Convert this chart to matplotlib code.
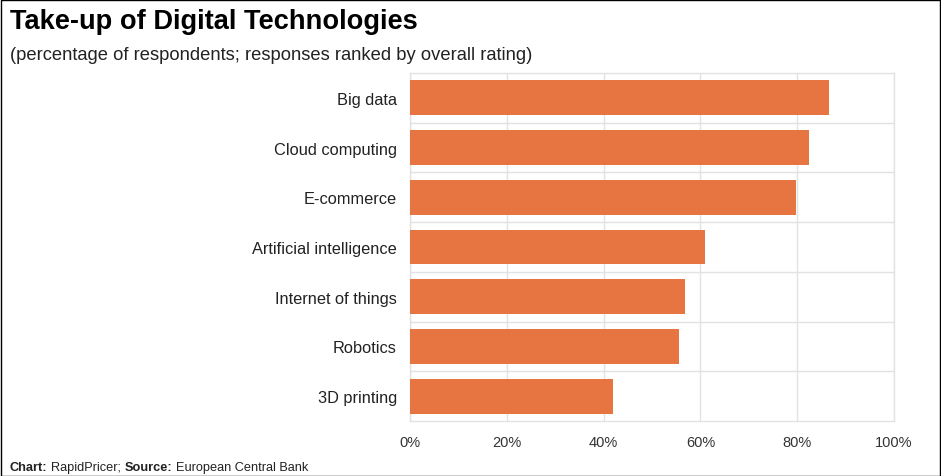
import matplotlib

matplotlib.use("Agg")
import matplotlib.pyplot as plt
from matplotlib.patches import Rectangle
from matplotlib.ticker import PercentFormatter

plt.rcParams["font.family"] = ["Liberation Sans", "DejaVu Sans"]

categories = [
    "Big data", "Cloud computing", "E-commerce", "Artificial intelligence",
    "Internet of things", "Robotics", "3D printing",
]
values = [86.6, 82.5, 79.8, 60.9, 56.9, 55.5, 42.0]
x_ticks = [0, 20, 40, 60, 80, 100]

BAR_COLOR = "#E67541"
GRID_COLOR = "#e2e2e2"

W, H = 941, 477
fig = plt.figure(figsize=(W / 100, H / 100), dpi=100)

# plot area in pixels: x 410..894, y 74..422
ax = fig.add_axes([410 / W, 1 - 422 / H, 484 / W, 348 / H])
y = list(range(len(categories)))
ax.barh(y, values, height=0.7, color=BAR_COLOR, zorder=3)
ax.set_ylim(len(categories) - 0.5, -0.5)
ax.set_xlim(0, 100)
ax.set_yticks(y)
ax.set_yticklabels(categories, fontsize=11.8, color="#222222")
ax.set_xticks(x_ticks)
ax.xaxis.set_major_formatter(PercentFormatter(decimals=0))
ax.tick_params(axis="x", labelsize=10.5, colors="#333333", length=0, pad=10)
ax.tick_params(axis="y", length=0, pad=9.5)

ax.grid(axis="x", color=GRID_COLOR, linewidth=1, zorder=0)
for k in range(len(categories) - 1):
    ax.axhline(k + 0.5, color=GRID_COLOR, linewidth=1, zorder=0)
for s in ax.spines.values():
    s.set_color(GRID_COLOR)
    s.set_linewidth(1)

fig.text(10 / W, 1 - 22 / H, "Take-up of Digital Technologies", fontsize=19.6,
         fontweight="bold", va="center", ha="left")
fig.text(10 / W, 1 - 55 / H,
         "(percentage of respondents; responses ranked by overall rating)",
         fontsize=13.2, va="center", ha="left", color="#222222")

# footer with bold labels
fig.canvas.draw()
renderer = fig.canvas.get_renderer()
x = 10
parts = [("Chart:", "bold"), ("RapidPricer;", "normal"),
         ("Source:", "bold"), ("European Central Bank", "normal")]
for txt, wt in parts:
    t = fig.text(x / W, 1 - 468 / H, txt, fontsize=9.2, fontweight=wt,
                 va="center", ha="left", color="#222222")
    x += t.get_window_extent(renderer).width + 3.5

fig.patches.append(Rectangle((0.5 / W, 0.5 / H), (W - 1.5) / W, (H - 1.5) / H,
                             transform=fig.transFigure, fill=False,
                             edgecolor="black", linewidth=1))

fig.savefig("out.png", dpi=100)
plt.close(fig)
